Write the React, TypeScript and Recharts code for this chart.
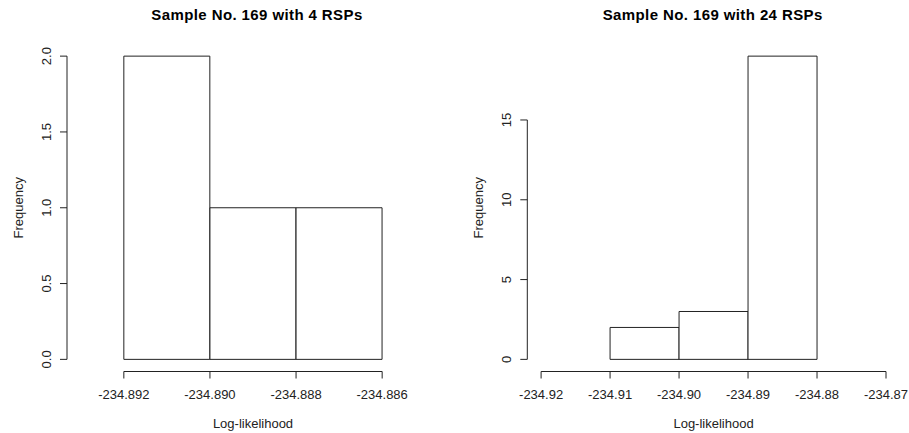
import { Bar, BarChart, ReferenceLine, XAxis, YAxis } from "recharts";

// 4 RSPs: breaks every 0.002
const breaks4 = [-234.892, -234.89, -234.888, -234.886];
const counts4 = [2, 1, 1];
const xTicks4 = [-234.892, -234.89, -234.888, -234.886];
const yTicks4 = [0, 0.5, 1, 1.5, 2];
const xLim4 = [-234.893, -234.885];
const yLim4 = [0, 2];

// 24 RSPs: breaks every 0.01
const breaks24 = [-234.91, -234.9, -234.89, -234.88];
const counts24 = [2, 3, 19];
const xTicks24 = [-234.92, -234.91, -234.9, -234.89, -234.88, -234.87];
const yTicks24 = [0, 5, 10, 15];
const xLim24 = [-234.92, -234.87];
const yLim24 = [0, 19];

const FONT = "'Liberation Sans', Arial, sans-serif";
const INK = "#222";

// R-style 4% expansion of the axis limits
const pad = ([a, b]: number[]) => {
  const d = (b - a) * 0.04;
  return [a - d, b + d];
};

const toBins = (breaks: number[], counts: number[]) =>
  counts.map((count, i) => ({
    mid: (breaks[i] + breaks[i + 1]) / 2,
    count,
  }));

function YTick({ x, y, payload, digits }: any) {
  return (
    <text
      x={x}
      y={y}
      dy="0.36em"
      textAnchor="middle"
      transform={`rotate(-90 ${x} ${y})`}
      fontSize={13}
      fontFamily={FONT}
      fill={INK}
    >
      {Number(payload.value).toFixed(digits)}
    </text>
  );
}

function Histogram({
  title,
  breaks,
  counts,
  xTicks,
  yTicks,
  xLim,
  yLim,
  xDigits,
  yDigits,
  width,
  left,
  right,
  titleX,
}: {
  title: string;
  breaks: number[];
  counts: number[];
  xTicks: number[];
  yTicks: number[];
  xLim: number[];
  yLim: number[];
  xDigits: number;
  yDigits: number;
  width: number;
  left: number;
  right: number;
  titleX: number;
}) {
  const height = 433;
  const top = 44;
  const bottom = 61.5;
  const xDom = pad(xLim);
  const yDom = pad(yLim);
  const plotMidX = left + (width - left - right) / 2;
  const plotMidY = top + (height - top - bottom) / 2;
  return (
    <BarChart
      width={width}
      height={height}
      data={toBins(breaks, counts)}
      margin={{ top, right, bottom: 0, left: 0 }}
      barCategoryGap={0}
      barGap={0}
    >
      <XAxis
        dataKey="mid"
        type="number"
        domain={xDom}
        allowDataOverflow
        ticks={xTicks}
        interval={0}
        height={bottom}
        axisLine={false}
        tickSize={7}
        tickMargin={11}
        tickLine={{ stroke: INK }}
        tick={{ fontSize: 13, fontFamily: FONT, fill: INK }}
        tickFormatter={(v: number) => v.toFixed(xDigits)}
      />
      <YAxis
        type="number"
        domain={yDom}
        allowDataOverflow
        ticks={yTicks}
        interval={0}
        width={left}
        axisLine={false}
        tickSize={7}
        tickMargin={13.5}
        tickLine={{ stroke: INK }}
        tick={<YTick digits={yDigits} />}
      />
      <Bar
        dataKey="count"
        fill="#fff"
        stroke={INK}
        strokeWidth={1}
        isAnimationActive={false}
      />
      {/* axis lines only span the tick range, as in base graphics */}
      <ReferenceLine
        segment={[
          { x: xTicks[0], y: yDom[0] },
          { x: xTicks[xTicks.length - 1], y: yDom[0] },
        ]}
        stroke={INK}
        ifOverflow="visible"
      />
      <ReferenceLine
        segment={[
          { x: xDom[0], y: yTicks[0] },
          { x: xDom[0], y: yTicks[yTicks.length - 1] },
        ]}
        stroke={INK}
        ifOverflow="visible"
      />
      <text
        x={titleX}
        y={20}
        textAnchor="middle"
        fontSize={15}
        fontWeight="bold"
        letterSpacing={0.4}
        fontFamily={FONT}
        fill="#000"
      >
        {title}
      </text>
      <text
        x={plotMidX}
        y={427.5}
        textAnchor="middle"
        fontSize={13}
        fontFamily={FONT}
        fill={INK}
      >
        Log-likelihood
      </text>
      <text
        x={left - 49}
        y={plotMidY}
        dy="0.36em"
        textAnchor="middle"
        transform={`rotate(-90 ${left - 49} ${plotMidY})`}
        fontSize={13}
        fontFamily={FONT}
        fill={INK}
      >
        Frequency
      </text>
    </BarChart>
  );
}

export default function App() {
  return (
    <div
      style={{
        position: "absolute",
        left: 0,
        top: 0,
        width: 909,
        height: 433,
        background: "#fff",
      }}
    >
      <div style={{ position: "absolute", left: 0, top: 0 }}>
        <Histogram
          title="Sample No. 169 with 4 RSPs"
          breaks={breaks4}
          counts={counts4}
          xTicks={xTicks4}
          yTicks={yTicks4}
          xLim={xLim4}
          yLim={yLim4}
          xDigits={3}
          yDigits={1}
          width={454}
          left={67}
          right={15}
          titleX={257}
        />
      </div>
      <div style={{ position: "absolute", left: 454, top: 0 }}>
        <Histogram
          title="Sample No. 169 with 24 RSPs"
          breaks={breaks24}
          counts={counts24}
          xTicks={xTicks24}
          yTicks={yTicks24}
          xLim={xLim24}
          yLim={yLim24}
          xDigits={2}
          yDigits={0}
          width={455}
          left={73.3}
          right={9.2}
          titleX={258.7}
        />
      </div>
    </div>
  );
}
